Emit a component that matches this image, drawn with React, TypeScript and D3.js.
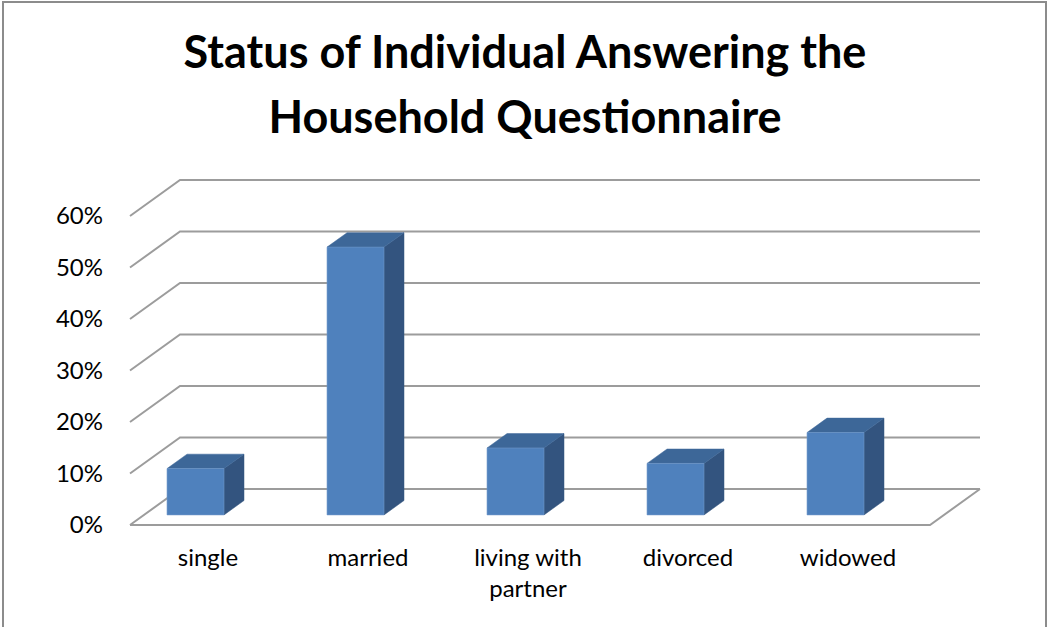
import React from 'react'
import * as d3 from 'd3'

const categories = ['single', 'married', 'living with partner', 'divorced', 'widowed']
const shares = [0.09, 0.52, 0.13, 0.10, 0.16]
const yTicks = [0, 0.1, 0.2, 0.3, 0.4, 0.5, 0.6]
const titleLines = ['Status of Individual Answering the', 'Household Questionnaire']

const width = 1048
const height = 627

// floor / wall geometry (oblique projection)
const floorY = 525
const left = 130
const right = 930
const depthX = 50
const depthY = -36
// bars sit between these depth fractions
const barFront = 0.28
const barBack = 0.68

const font = 'Lato, "Open Sans", sans-serif'
const gridColor = '#9c9c9c'

const x = d3.scaleBand<string>().domain(categories).range([left, right])
const y = d3.scaleLinear().domain([0, 0.6]).range([0, 309])
const fmt = d3.format('.0%')

// project a point on the front plane at depth t
function pt(px: number, v: number, t: number): [number, number] {
  return [px + depthX * t, floorY + depthY * t - y(v)]
}

function poly(points: [number, number][]) {
  return 'M' + points.map(p => p.join(',')).join('L') + 'Z'
}

const line = d3.line()

const App: React.FunctionComponent = () => {
  const bw = x.bandwidth()
  return (
    <svg width={width} height={height} style={{ position: 'absolute', left: 0, top: 0, background: '#fff' }}>
      <rect x={3} y={2} width={1043} height={660} fill="#fff" stroke="#8c8c8c" strokeWidth={2} />

      <g fontFamily={font} fontWeight="bold" fontSize={45} textAnchor="middle" fill="#000">
        {titleLines.map((t, i) => (
          <text key={t} x={525} y={68 + i * 65}>{t}</text>
        ))}
      </g>

      {/* back wall gridlines with the left-side returns */}
      <g stroke={gridColor} strokeWidth={2} fill="none">
        {yTicks.map(v => (
          <path key={v} d={line([pt(left, v, 0), pt(left, v, 1), pt(right, v, 1)]) || ''} />
        ))}
        <path d={line([pt(left, 0, 0), pt(right, 0, 0), pt(right, 0, 1)]) || ''} />
      </g>

      <g fontFamily={font} fontSize={24} textAnchor="end" fill="#000">
        {yTicks.map(v => (
          <text key={v} x={103} y={pt(left, v, 0)[1]} dy="0.35em">{fmt(v)}</text>
        ))}
      </g>

      {categories.map((c, i) => {
        const x0 = (x(c) as number) + bw * 0.144
        const x1 = x0 + bw * 0.356
        const v = shares[i]
        const front = poly([pt(x0, 0, barFront), pt(x1, 0, barFront), pt(x1, v, barFront), pt(x0, v, barFront)])
        const top = poly([pt(x0, v, barFront), pt(x1, v, barFront), pt(x1, v, barBack), pt(x0, v, barBack)])
        const side = poly([pt(x1, 0, barFront), pt(x1, 0, barBack), pt(x1, v, barBack), pt(x1, v, barFront)])
        return (
          <g key={c}>
            <path d={side} fill="#33547f" stroke="#33547f" strokeWidth={0.5} />
            <path d={top} fill="#3d6798" stroke="#3d6798" strokeWidth={0.5} />
            <path d={front} fill="#4f81bd" stroke="#6f97c9" strokeWidth={0.6} />
          </g>
        )
      })}

      <g fontFamily={font} fontSize={24} textAnchor="middle" fill="#000">
        {categories.map(c => {
          const cx = (x(c) as number) + bw / 2 - 2
          const words = c === 'living with partner' ? ['living with', 'partner'] : [c]
          return (
            <text key={c} x={cx} y={566}>
              {words.map((w, j) => (
                <tspan key={w} x={cx} dy={j === 0 ? 0 : 31}>{w}</tspan>
              ))}
            </text>
          )
        })}
      </g>
    </svg>
  )
}

export default App
